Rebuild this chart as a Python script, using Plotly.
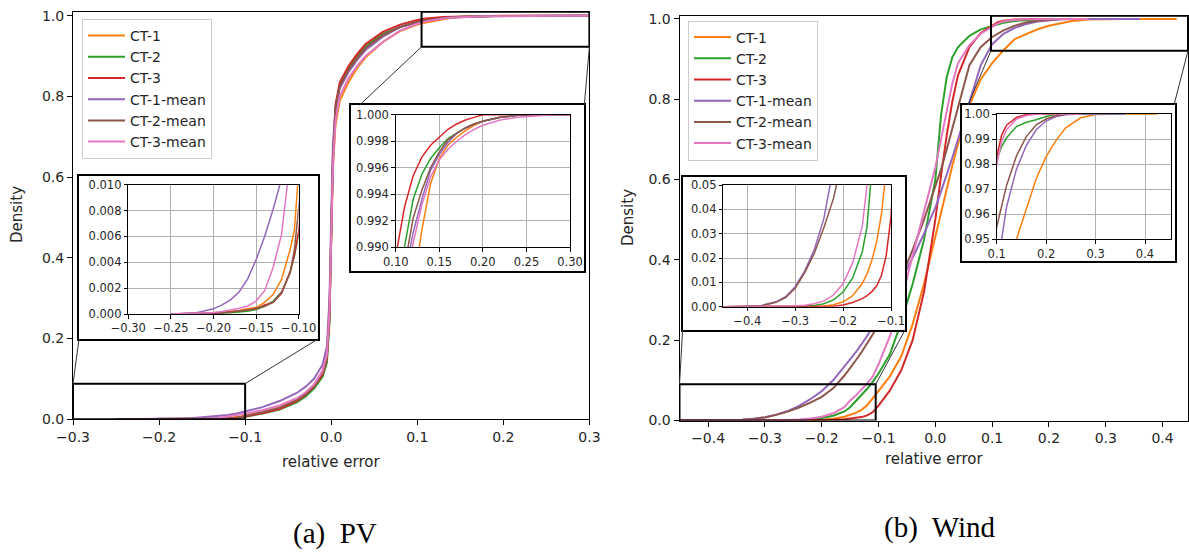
import plotly.graph_objects as go

FIG_W, FIG_H = 1189, 554

SERIES_NAMES = ["CT-1", "CT-2", "CT-3", "CT-1-mean", "CT-2-mean", "CT-3-mean"]
SERIES_COLORS = ["#ff7f0e", "#2ca02c", "#d62728", "#9467bd", "#8c564b", "#e377c2"]

# ---------------- PV: empirical CDF of the relative error ----------------
pv_x = [-0.25, -0.22, -0.20, -0.19, -0.18, -0.17, -0.16, -0.15, -0.14, -0.13, -0.12, -0.11, -0.105, -0.10,
        -0.08, -0.06, -0.04, -0.03, -0.02, -0.01, -0.005, -0.002,
        0.0, 0.002, 0.005, 0.01, 0.02, 0.03, 0.04, 0.06, 0.08,
        0.10, 0.11, 0.12, 0.13, 0.14, 0.15, 0.16, 0.17, 0.18, 0.19, 0.20,
        0.22, 0.24, 0.26, 0.28, 0.30]
pv_ct1 = [0, 0.00004, 0.0001, 0.00014, 0.0002, 0.00028, 0.0004, 0.0005, 0.0009, 0.0015, 0.0027, 0.005, 0.0065, 0.0095,
          0.018, 0.029, 0.048, 0.063, 0.085, 0.12, 0.16, 0.27,
          0.46, 0.62, 0.73, 0.79, 0.835, 0.87, 0.897, 0.935, 0.962,
          0.978, 0.983, 0.987, 0.9913, 0.9948, 0.9967, 0.9977, 0.9983, 0.9988, 0.9992, 0.9995,
          0.9998, 0.99995, 1.0, 1.0, 1.0]
pv_ct2 = [0, 0.00002, 0.00004, 0.00007, 0.0001, 0.00015, 0.00022, 0.00035, 0.0006, 0.001, 0.0017, 0.0032, 0.0045, 0.0062,
          0.014, 0.024, 0.042, 0.056, 0.076, 0.105, 0.14, 0.24,
          0.45, 0.64, 0.77, 0.83, 0.87, 0.90, 0.925, 0.955, 0.972,
          0.985, 0.990, 0.9936, 0.9955, 0.9967, 0.9975, 0.9982, 0.9986, 0.999, 0.9993, 0.9995,
          0.9998, 0.99995, 1.0, 1.0, 1.0]
pv_ct3 = [0, 0.00002, 0.00005, 0.0001, 0.00015, 0.0002, 0.0003, 0.0004, 0.0007, 0.0009, 0.0016, 0.0033, 0.0046, 0.0064,
          0.015, 0.025, 0.045, 0.06, 0.08, 0.11, 0.15, 0.25,
          0.45, 0.65, 0.78, 0.835, 0.875, 0.905, 0.93, 0.96, 0.978,
          0.9893, 0.993, 0.9954, 0.9968, 0.9977, 0.9983, 0.9989, 0.9993, 0.9996, 0.9998, 1.0,
          1.0, 1.0, 1.0, 1.0, 1.0]
pv_ct1_mean = [0, 0.0001, 0.0004, 0.0007, 0.0011, 0.0017, 0.0027, 0.0042, 0.006, 0.0081, 0.0105, 0.014, 0.0165, 0.019,
               0.03, 0.045, 0.065, 0.08, 0.10, 0.135, 0.18, 0.30,
               0.50, 0.68, 0.77, 0.82, 0.86, 0.89, 0.915, 0.948, 0.972,
               0.984, 0.9877, 0.9911, 0.9936, 0.9958, 0.997, 0.9979, 0.9986, 0.999, 0.9993, 0.9995,
               0.9998, 0.99995, 1.0, 1.0, 1.0]
pv_ct2_mean = [0, 0.00003, 0.00006, 0.0001, 0.00015, 0.0002, 0.0003, 0.00045, 0.0006, 0.0009, 0.0017, 0.0032, 0.005, 0.0082,
               0.017, 0.028, 0.047, 0.062, 0.082, 0.115, 0.155, 0.27,
               0.47, 0.65, 0.77, 0.825, 0.865, 0.895, 0.92, 0.952, 0.972,
               0.985, 0.9885, 0.9922, 0.9943, 0.996, 0.9972, 0.9981, 0.9986, 0.999, 0.9993, 0.9995,
               0.9998, 0.99995, 1.0, 1.0, 1.0]
pv_ct3_mean = [0, 0.00005, 0.00012, 0.0002, 0.0003, 0.00045, 0.0006, 0.001, 0.0018, 0.0036, 0.0062, 0.0101, 0.012, 0.014,
               0.022, 0.034, 0.052, 0.066, 0.086, 0.12, 0.16, 0.27,
               0.47, 0.63, 0.74, 0.80, 0.845, 0.875, 0.90, 0.935, 0.963,
               0.98, 0.986, 0.9903, 0.9932, 0.9953, 0.9966, 0.9974, 0.998, 0.9985, 0.9989, 0.9992,
               0.9996, 0.9998, 0.9999, 1.0, 1.0]

# ---------------- Wind: empirical CDF of the relative error ----------------
wind_x = [-0.45, -0.40, -0.37, -0.34, -0.32, -0.30, -0.28, -0.26, -0.24, -0.22, -0.20, -0.18, -0.16, -0.15,
          -0.14, -0.13, -0.12, -0.11, -0.10, -0.08, -0.06, -0.04, -0.02, 0.00, 0.01, 0.02, 0.03, 0.04, 0.06, 0.08,
          0.10, 0.11, 0.12, 0.14, 0.16, 0.18, 0.20, 0.22, 0.24, 0.27, 0.30, 0.33, 0.36, 0.425]
wind_ct1 = [0, 0, 0, 0, 0, 0.00002, 0.00005, 0.0001, 0.0003, 0.0008, 0.002, 0.0045, 0.0095, 0.0135,
            0.019, 0.0265, 0.038, 0.056, 0.075, 0.11, 0.16, 0.24, 0.34, 0.46, 0.52, 0.58, 0.635, 0.69, 0.785, 0.85,
            0.89, 0.906, 0.922, 0.95, 0.9625, 0.9743, 0.983, 0.9895, 0.9946, 0.9985, 0.9998, 1.0, 1.0, 1.0]
wind_ct2 = [0, 0, 0, 0.00005, 0.0001, 0.00015, 0.0002, 0.0005, 0.0012, 0.0028, 0.006, 0.0118, 0.0225, 0.0329,
            0.048, 0.063, 0.079, 0.097, 0.117, 0.165, 0.245, 0.34, 0.45, 0.60, 0.76, 0.855, 0.905, 0.93, 0.958, 0.974,
            0.9816, 0.987, 0.9905, 0.995, 0.9967, 0.9977, 0.999, 0.9999, 1.0, 1.0, 1.0, 1.0, 1.0, None]
wind_ct3 = [0, 0, 0, 0, 0, 0, 0, 0.00005, 0.0001, 0.0002, 0.0007, 0.0017, 0.0033, 0.0045,
            0.0062, 0.0085, 0.0128, 0.021, 0.037, 0.075, 0.125, 0.20, 0.32, 0.50, 0.61, 0.71, 0.795, 0.86, 0.93, 0.965,
            0.983, 0.9916, 0.9955, 0.9986, 0.9998, 1.0, 1.0, 1.0, 1.0, 1.0, None, None, None, None]
wind_ct1_mean = [0, 0.0001, 0.0005, 0.002, 0.0041, 0.0082, 0.0147, 0.0235, 0.0363, 0.053, 0.073, 0.10, 0.135, 0.152,
                 0.17, 0.19, 0.21, 0.232, 0.255, 0.30, 0.35, 0.405, 0.465, 0.53, 0.57, 0.61, 0.655, 0.70, 0.795, 0.885,
                 0.937, 0.95, 0.963, 0.978, 0.9875, 0.9937, 0.9972, 0.999, 0.9997, 1.0, 1.0, 1.0, 1.0, None]
wind_ct2_mean = [0, 0.0001, 0.0004, 0.0018, 0.0037, 0.0076, 0.014, 0.022, 0.0325, 0.0445, 0.059, 0.08, 0.112, 0.13,
                 0.15, 0.17, 0.192, 0.215, 0.24, 0.295, 0.355, 0.425, 0.50, 0.58, 0.625, 0.675, 0.725, 0.78, 0.885, 0.93,
                 0.955, 0.9637, 0.9715, 0.9833, 0.991, 0.9957, 0.998, 0.9993, 0.9999, 1.0, None, None, None, None]
wind_ct3_mean = [0, 0, 0.0001, 0.0002, 0.0003, 0.0004, 0.0006, 0.0012, 0.0024, 0.0048, 0.0095, 0.018, 0.033, 0.05,
                 0.062, 0.076, 0.092, 0.11, 0.14, 0.21, 0.30, 0.41, 0.52, 0.63, 0.70, 0.77, 0.84, 0.89, 0.935, 0.963,
                 0.9797, 0.989, 0.9938, 0.998, 0.9994, 0.9999, 1.0, 1.0, 1.0, 1.0, None, None, None, None]

pv_series = [pv_ct1, pv_ct2, pv_ct3, pv_ct1_mean, pv_ct2_mean, pv_ct3_mean]
wind_series = [wind_ct1, wind_ct2, wind_ct3, wind_ct1_mean, wind_ct2_mean, wind_ct3_mean]

# ---------------- axis ranges and ticks ----------------
pv_main_range = [-0.3, 0.3]
wind_main_range = [-0.4504, 0.4448]
main_y_range_pv = [0.0, 1.01]
main_y_range_wind = [0.0, 1.008]
main_yticks = [0.0, 0.2, 0.4, 0.6, 0.8, 1.0]
pv_main_xticks = [-0.3, -0.2, -0.1, 0.0, 0.1, 0.2, 0.3]
wind_main_xticks = [-0.4, -0.3, -0.2, -0.1, 0.0, 0.1, 0.2, 0.3, 0.4]

pv_low_xrange, pv_low_yrange = [-0.30, -0.10], [0.0, 0.010]
pv_low_xticks = [-0.30, -0.25, -0.20, -0.15, -0.10]
pv_low_yticks = [0.000, 0.002, 0.004, 0.006, 0.008, 0.010]
pv_high_xrange, pv_high_yrange = [0.10, 0.30], [0.990, 1.000]
pv_high_xticks = [0.10, 0.15, 0.20, 0.25, 0.30]
pv_high_yticks = [0.990, 0.992, 0.994, 0.996, 0.998, 1.000]
wind_low_xrange, wind_low_yrange = [-0.45, -0.10], [0.0, 0.05]
wind_low_xticks = [-0.4, -0.3, -0.2, -0.1]
wind_low_yticks = [0.00, 0.01, 0.02, 0.03, 0.04, 0.05]
wind_high_xrange, wind_high_yrange = [0.10, 0.452], [0.95, 1.00]
wind_high_xticks = [0.1, 0.2, 0.3, 0.4]
wind_high_yticks = [0.95, 0.96, 0.97, 0.98, 0.99, 1.00]

# highlighted zoom windows drawn on the main panels (data units)
pv_low_window = dict(x0=-0.30, x1=-0.10, y0=0.0, y1=0.088)
pv_high_window = dict(x0=0.105, x1=0.30, y0=0.923, y1=1.01)
wind_low_window = dict(x0=-0.4504, x1=-0.105, y0=0.0, y1=0.09)
wind_high_window = dict(x0=0.098, x1=0.4448, y0=0.921, y1=1.008)

# ---------------- layout geometry (pixels) ----------------
TEXT = "#262626"
FONT = "DejaVu Sans"


def xdom(p0, p1):
    return [p0 / FIG_W, p1 / FIG_W]


def ydom(top, bottom):
    return [1 - bottom / FIG_H, 1 - top / FIG_H]


PV_MAIN = dict(x=(73, 589.4), y=(11.7, 419.2))
WIND_MAIN = dict(x=(679.5, 1188), y=(15.7, 420.5))
PV_LOW_BOX = dict(x=(79, 318), y=(176, 339))
PV_LOW_AX = dict(x=(128.3, 298.7), y=(184.7, 314))
PV_HIGH_BOX = dict(x=(351, 584.3), y=(105, 270.7))
PV_HIGH_AX = dict(x=(395.7, 570), y=(114.7, 247.3))
WIND_LOW_BOX = dict(x=(682.6, 905), y=(176.5, 330))
WIND_LOW_AX = dict(x=(723.3, 891), y=(185, 306.7))
WIND_HIGH_BOX = dict(x=(961.7, 1175), y=(105, 260.7))
WIND_HIGH_AX = dict(x=(996.7, 1170.7), y=(114, 239.3))


def to_px(geom, xr, yr, xv, yv):
    px = geom["x"][0] + (xv - xr[0]) / (xr[1] - xr[0]) * (geom["x"][1] - geom["x"][0])
    py = geom["y"][1] - (yv - yr[0]) / (yr[1] - yr[0]) * (geom["y"][1] - geom["y"][0])
    return px, py


fig = go.Figure()


def add_curves(xs, series, xa, ya, width, legend=None):
    for name, color, ys in zip(SERIES_NAMES, SERIES_COLORS, series):
        fig.add_trace(go.Scatter(
            x=xs, y=ys, mode="lines", name=name,
            line=dict(color=color, width=width),
            xaxis=xa, yaxis=ya,
            showlegend=legend is not None,
            legend=legend if legend else "legend",
            hoverinfo="skip",
        ))


# main panels
add_curves(pv_x, pv_series, "x", "y", 2.0, legend="legend")
add_curves(wind_x, wind_series, "x2", "y2", 2.0, legend="legend2")

# white framed boxes behind the insets
for k in (3, 4, 5, 6):
    fig.add_trace(go.Scatter(x=[None], y=[None], xaxis=f"x{k}", yaxis=f"y{k}",
                             showlegend=False, hoverinfo="skip"))

# inset panels
add_curves(pv_x, pv_series, "x7", "y7", 1.5)
add_curves(pv_x, pv_series, "x8", "y8", 1.5)
add_curves(wind_x, wind_series, "x9", "y9", 1.5)
add_curves(wind_x, wind_series, "x10", "y10", 1.5)


def main_axis(geom_key, geom, rng, ticks, anchor):
    return dict(
        domain=xdom(*geom["x"]) if geom_key == "x" else ydom(*geom["y"]),
        range=rng, anchor=anchor, automargin=False,
        showline=True, mirror=True, linecolor="black",
        linewidth=1, ticks="outside", ticklen=5, tickwidth=1, tickcolor="black",
        tickvals=ticks, tickformat=".1f", showgrid=False, zeroline=False,
        tickfont=dict(family=FONT, size=14, color=TEXT), fixedrange=True,
    )


def inset_axis(geom_key, geom, rng, ticks, fmt, anchor):
    return dict(
        domain=xdom(*geom["x"]) if geom_key == "x" else ydom(*geom["y"]),
        range=rng, anchor=anchor, automargin=False,
        showline=True, mirror=True, linecolor="black",
        linewidth=1, ticks="outside", ticklen=3.5, tickwidth=1, tickcolor="black",
        tickvals=ticks, tickformat=fmt, showgrid=True, gridcolor="#b0b0b0", gridwidth=1,
        zeroline=False, tickfont=dict(family=FONT, size=11.5, color=TEXT), fixedrange=True,
    )


def box_axis(geom_key, geom, anchor):
    return dict(
        domain=xdom(*geom["x"]) if geom_key == "x" else ydom(*geom["y"]),
        range=[0, 1], anchor=anchor, automargin=False,
        showline=True, mirror=True, linecolor="black",
        linewidth=2, ticks="", showticklabels=False, showgrid=False, zeroline=False,
        fixedrange=True,
    )


layout = dict(
    width=FIG_W, height=FIG_H, margin=dict(l=0, r=0, t=0, b=0, pad=0),
    paper_bgcolor="white", plot_bgcolor="white",
    font=dict(family=FONT, color=TEXT),
    xaxis=main_axis("x", PV_MAIN, pv_main_range, pv_main_xticks, "y"),
    yaxis=main_axis("y", PV_MAIN, main_y_range_pv, main_yticks, "x"),
    xaxis2=main_axis("x", WIND_MAIN, wind_main_range, wind_main_xticks, "y2"),
    yaxis2=main_axis("y", WIND_MAIN, main_y_range_wind, main_yticks, "x2"),
    xaxis3=box_axis("x", PV_LOW_BOX, "y3"), yaxis3=box_axis("y", PV_LOW_BOX, "x3"),
    xaxis4=box_axis("x", PV_HIGH_BOX, "y4"), yaxis4=box_axis("y", PV_HIGH_BOX, "x4"),
    xaxis5=box_axis("x", WIND_LOW_BOX, "y5"), yaxis5=box_axis("y", WIND_LOW_BOX, "x5"),
    xaxis6=box_axis("x", WIND_HIGH_BOX, "y6"), yaxis6=box_axis("y", WIND_HIGH_BOX, "x6"),
    xaxis7=inset_axis("x", PV_LOW_AX, pv_low_xrange, pv_low_xticks, ".2f", "y7"),
    yaxis7=inset_axis("y", PV_LOW_AX, pv_low_yrange, pv_low_yticks, ".3f", "x7"),
    xaxis8=inset_axis("x", PV_HIGH_AX, pv_high_xrange, pv_high_xticks, ".2f", "y8"),
    yaxis8=inset_axis("y", PV_HIGH_AX, pv_high_yrange, pv_high_yticks, ".3f", "x8"),
    xaxis9=inset_axis("x", WIND_LOW_AX, wind_low_xrange, wind_low_xticks, ".1f", "y9"),
    yaxis9=inset_axis("y", WIND_LOW_AX, wind_low_yrange, wind_low_yticks, ".2f", "x9"),
    xaxis10=inset_axis("x", WIND_HIGH_AX, wind_high_xrange, wind_high_xticks, ".1f", "y10"),
    yaxis10=inset_axis("y", WIND_HIGH_AX, wind_high_yrange, wind_high_yticks, ".2f", "x10"),
)

legend_style = dict(
    xanchor="left", yanchor="top", bgcolor="rgba(255,255,255,0.8)",
    bordercolor="#cccccc", borderwidth=1, tracegroupgap=0, itemwidth=37,
    font=dict(family=FONT, size=14, color=TEXT),
)
layout["legend"] = dict(x=82 / FIG_W, y=1 - 19 / FIG_H, **legend_style)
layout["legend2"] = dict(x=688 / FIG_W, y=1 - 20.5 / FIG_H, **legend_style)

fig.update_layout(**layout)

# zoom windows on the main panels and connector lines to the inset boxes
shapes = []
for win, xr, yr in ((pv_low_window, "x", "y"), (pv_high_window, "x", "y"),
                    (wind_low_window, "x2", "y2"), (wind_high_window, "x2", "y2")):
    shapes.append(dict(type="rect", xref=xr, yref=yr, layer="above",
                       line=dict(color="black", width=2), fillcolor="rgba(0,0,0,0)", **win))


def connector(geom, xr, yr, xv, yv, target):
    px, py = to_px(geom, xr, yr, xv, yv)
    return dict(type="line", xref="paper", yref="paper", layer="above",
                x0=px / FIG_W, y0=1 - py / FIG_H,
                x1=target[0] / FIG_W, y1=1 - target[1] / FIG_H,
                line=dict(color="#333333", width=1))


shapes += [
    connector(PV_MAIN, pv_main_range, main_y_range_pv, pv_low_window["x0"], pv_low_window["y1"],
              (PV_LOW_BOX["x"][0], PV_LOW_BOX["y"][1])),
    connector(PV_MAIN, pv_main_range, main_y_range_pv, pv_low_window["x1"], pv_low_window["y1"],
              (PV_LOW_BOX["x"][1], PV_LOW_BOX["y"][1])),
    connector(PV_MAIN, pv_main_range, main_y_range_pv, pv_high_window["x0"], pv_high_window["y0"],
              (359.7, PV_HIGH_BOX["y"][0])),
    connector(PV_MAIN, pv_main_range, main_y_range_pv, pv_high_window["x1"], pv_high_window["y0"],
              (PV_HIGH_BOX["x"][1], PV_HIGH_BOX["y"][0])),
    connector(WIND_MAIN, wind_main_range, main_y_range_wind, wind_low_window["x0"], wind_low_window["y1"],
              (WIND_LOW_BOX["x"][0], WIND_LOW_BOX["y"][1])),
    connector(WIND_MAIN, wind_main_range, main_y_range_wind, wind_low_window["x1"], wind_low_window["y1"],
              (WIND_LOW_BOX["x"][1], WIND_LOW_BOX["y"][1])),
    connector(WIND_MAIN, wind_main_range, main_y_range_wind, wind_high_window["x0"], wind_high_window["y0"],
              (968, WIND_HIGH_BOX["y"][0])),
    connector(WIND_MAIN, wind_main_range, main_y_range_wind, wind_high_window["x1"], wind_high_window["y0"],
              (WIND_HIGH_BOX["x"][1] - 1, WIND_HIGH_BOX["y"][0])),
]
fig.update_layout(shapes=shapes)

# axis titles and panel captions
label_font = dict(family=FONT, size=15, color=TEXT)
caption_font = dict(family="Liberation Serif", size=29, color="black")
annotations = [
    dict(text="Density", x=17 / FIG_W, y=1 - 215 / FIG_H, textangle=-90, font=label_font),
    dict(text="Density", x=628 / FIG_W, y=1 - 218 / FIG_H, textangle=-90, font=label_font),
    dict(text="relative error", x=331 / FIG_W, y=1 - 462 / FIG_H, font=label_font),
    dict(text="relative error", x=934 / FIG_W, y=1 - 459 / FIG_H, font=label_font),
    dict(text="(a)  PV", x=335 / FIG_W, y=1 - 533 / FIG_H, font=caption_font),
    dict(text="(b)  Wind", x=940 / FIG_W, y=1 - 527 / FIG_H, font=caption_font),
]
for a in annotations:
    a.update(xref="paper", yref="paper", showarrow=False, xanchor="center", yanchor="middle")
fig.update_layout(annotations=annotations)

fig.write_html("out.html")
